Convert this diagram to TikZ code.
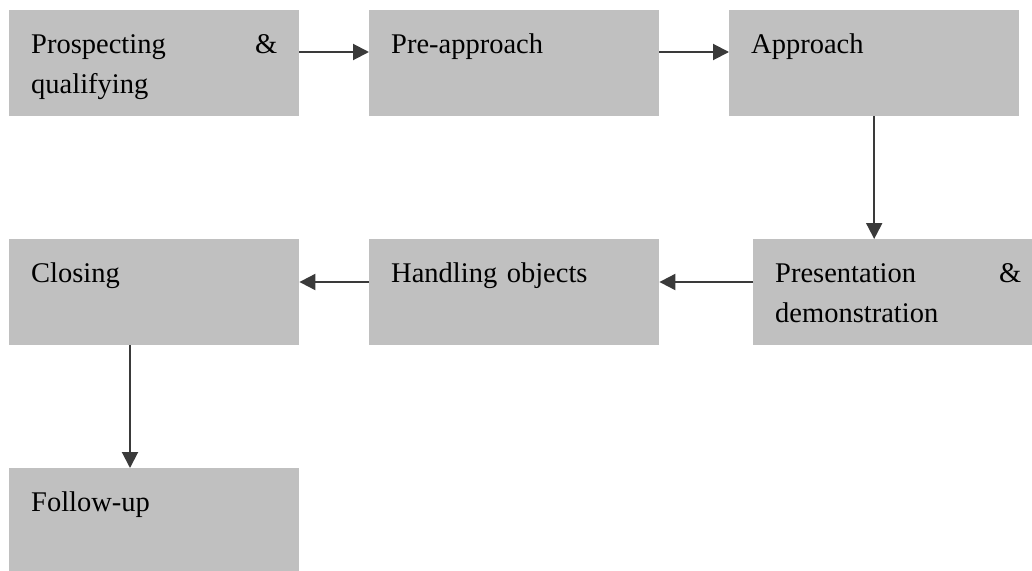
\documentclass[tikz,border=0pt]{standalone}
\usepackage{fontspec}
\setmainfont{Liberation Serif}
\usetikzlibrary{arrows.meta,calc}
\definecolor{boxgray}{RGB}{192,192,192}
\definecolor{arrgray}{RGB}{58,58,58}
\tikzset{
  box/.style={draw=none,fill=boxgray,rectangle,anchor=north west,inner sep=0pt,minimum width=290pt,minimum height=106pt},
  lbl/.style={anchor=base west,inner sep=0pt,text width=246pt,align=left,font=\fontsize{28.5}{40}\selectfont},
  arr/.style={draw=arrgray,line width=2pt,-{Triangle[length=16pt,width=16pt]}}
}
\begin{document}
\begin{tikzpicture}[x=1pt,y=-1pt]
\useasboundingbox (0,0) rectangle (1032,570);
\clip (0,0) rectangle (1032,570);
\node[box] (b1) at (9,10) {};
\node[box] (b2) at (369,10) {};
\node[box] (b3) at (729,10) {};
\node[box] (b4) at (753,239) {};
\node[box] (b5) at (369,239) {};
\node[box] (b6) at (9,239) {};
\node[box] (b7) at (9,468) {};
\node[lbl] (t1) at ([shift={(22pt,-43pt)}]b1.north west) {Prospecting\hfill\&\\qualifying};
\node[lbl] (t2) at ([shift={(22pt,-43pt)}]b2.north west) {Pre-approach};
\node[lbl] (t3) at ([shift={(22pt,-43pt)}]b3.north west) {Approach};
\node[lbl] (t4) at ([shift={(22pt,-43pt)}]b4.north west) {Presentation\hfill\&\\demonstration};
\node[lbl] (t5) at ([shift={(22pt,-43pt)}]b5.north west) {Handling objects};
\node[lbl] (t6) at ([shift={(22pt,-43pt)}]b6.north west) {Closing};
\node[lbl] (t7) at ([shift={(22pt,-43pt)}]b7.north west) {Follow-up};
\draw[arr] ([yshift=-42pt]b1.north east) -- ([yshift=-42pt]b2.north west);
\draw[arr] ([yshift=-42pt]b2.north east) -- ([yshift=-42pt]b3.north west);
\draw[arr] (b3.south) -- (b3.south |- b4.north);
\draw[arr] ([yshift=-43pt]b4.north west) -- ([yshift=-43pt]b5.north east);
\draw[arr] ([yshift=-43pt]b5.north west) -- ([yshift=-43pt]b6.north east);
\coordinate (c6) at ([xshift=121pt]b6.south west);
\draw[arr] (c6) -- (c6 |- b7.north);
\end{tikzpicture}
\end{document}
